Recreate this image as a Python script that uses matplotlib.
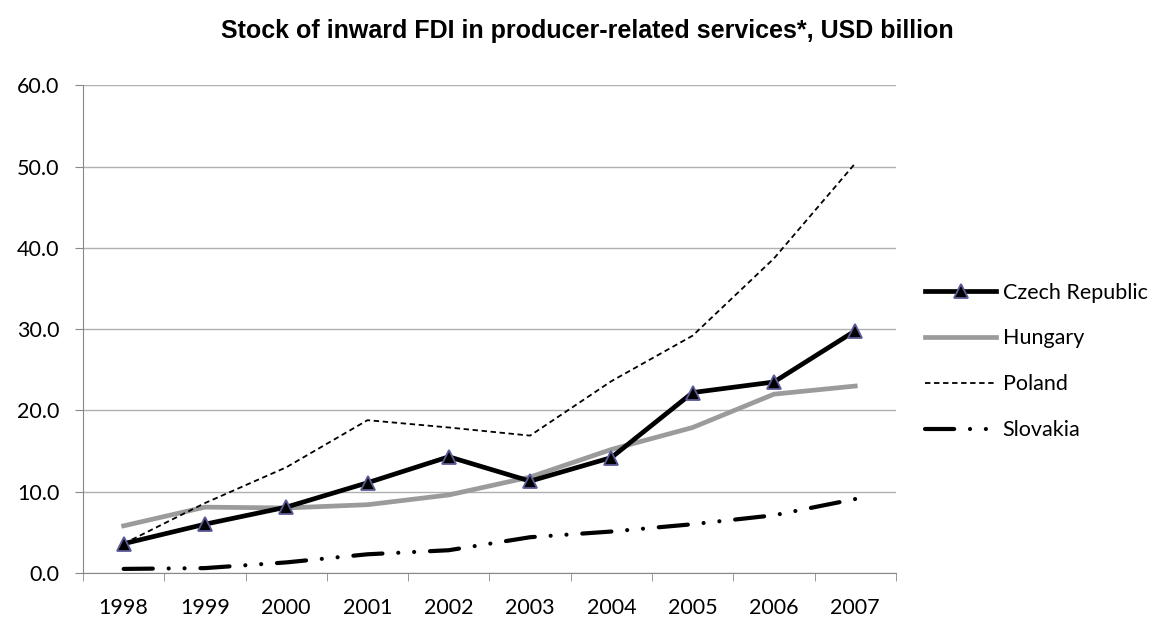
import numpy as np
import matplotlib.pyplot as plt

years = ['1998', '1999', '2000', '2001', '2002', '2003', '2004', '2005', '2006', '2007']

czech = [3.6, 6.0, 8.1, 11.1, 14.3, 11.3, 14.2, 22.2, 23.5, 29.8]
hungary = [5.8, 8.1, 8.0, 8.4, 9.6, 11.8, 15.2, 17.9, 22.0, 23.0]
poland = [3.6, 8.6, 13.0, 18.8, 17.9, 16.9, 23.6, 29.2, 38.7, 50.4]
slovakia = [0.5, 0.6, 1.3, 2.3, 2.8, 4.4, 5.1, 6.0, 7.1, 9.1]

x = np.arange(len(years))
fs = 15.5

fig = plt.figure(figsize=(11.53, 6.26), dpi=100)
ax = fig.add_axes([0.072, 0.0847, 0.705, 0.779])

ax.plot(x, czech, color='black', lw=3.4, marker='^', markersize=10,
        markerfacecolor='black', markeredgecolor='#5b5b98', markeredgewidth=1.3,
        label='Czech Republic', zorder=4)
ax.plot(x, hungary, color='#9b9b9b', lw=3.4, label='Hungary', zorder=3)
ax.plot(x, poland, color='black', lw=1.3, linestyle=(0, (3, 2)),
        label='Poland', zorder=3)
ax.plot(x, slovakia, color='black', lw=3.0, linestyle=(0, (7, 3.8, 0.01, 3.8, 0.01, 3.8)),
        dash_capstyle='round', label='Slovakia', zorder=3)

ax.set_xlim(-0.5, len(years) - 0.5)
ax.set_ylim(0, 60)
ax.set_yticks(np.arange(0, 61, 10))
ax.set_yticklabels(['%.1f' % v for v in np.arange(0, 61, 10)], fontsize=fs, family='Lato')
ax.set_xticks(x)
ax.set_xticklabels(years, fontsize=fs, family='Lato')
ax.tick_params(axis='x', length=0, pad=18)
ax.set_xticks(np.arange(-0.5, len(years), 1), minor=True)
ax.tick_params(axis='x', which='minor', length=6, color='#888888', direction='out')
ax.tick_params(axis='y', length=6, color='#888888', direction='out', pad=11)

ax.grid(axis='y', color='#b0b0b0', lw=1)
ax.set_axisbelow(True)
for s in ['top', 'right']:
    ax.spines[s].set_visible(False)
for s in ['left', 'bottom']:
    ax.spines[s].set_color('#888888')

fig.text(0.509, 1 - 31 / 626, 'Stock of inward FDI in producer-related services*, USD billion',
         ha='center', va='center', fontsize=18, fontweight='bold', family='Liberation Sans')

leg = ax.legend(loc='center left', bbox_to_anchor=(1.036, 0.434), frameon=False,
                prop={'family': 'Lato', 'size': fs}, borderaxespad=0, borderpad=0,
                handlelength=3.3, labelspacing=1.2, handletextpad=0.3)

fig.savefig('out.png', dpi=100)
